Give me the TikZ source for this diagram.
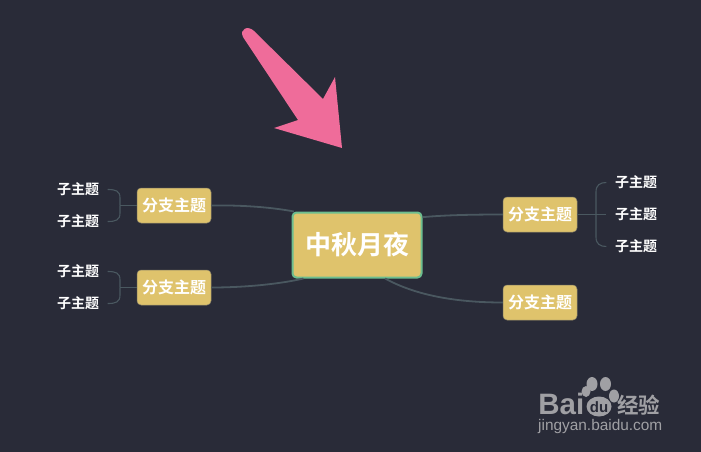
\documentclass[tikz,border=0pt]{standalone}
\usepackage{fontspec}
\setmainfont{Liberation Sans}
\newfontfamily\cjk{Noto Sans CJK SC}[BoldFont={Noto Sans CJK SC Bold}]
\usetikzlibrary{positioning, calc}
\definecolor{mmback}{HTML}{292B38}
\definecolor{mmgold}{HTML}{DFC36C}
\definecolor{mmgreen}{HTML}{6DBE8F}
\definecolor{mmedge}{HTML}{8C8468}
\definecolor{mmlink}{HTML}{4A5860}
\definecolor{mmpink}{HTML}{EF6C9A}
\definecolor{mmmark}{HTML}{A0A0A4}

\begin{document}
\begin{tikzpicture}[x=1pt, y=-1pt,
    rootbox/.style={fill=mmgold, draw=mmgreen, line width=2pt, rounded corners=4pt, text=white,
              font=\cjk\bfseries\fontsize{26}{28}\selectfont, inner sep=0pt,
              minimum width=129pt, minimum height=65pt},
    branch/.style={fill=mmgold, draw=mmedge, line width=0.5pt, rounded corners=4pt, text=white,
              font=\cjk\bfseries\fontsize{16}{18}\selectfont, inner sep=0pt,
              minimum width=74pt, minimum height=35pt},
    leaf/.style={text=white, font=\cjk\bfseries\fontsize{14}{16}\selectfont, inner ysep=0pt, inner xsep=8.5pt},
    link/.style={draw=mmlink, line width=1.8pt},
    twig/.style={draw=mmlink, line width=1.1pt},
    wmark/.style={text=mmmark, inner sep=0pt}]
    \useasboundingbox[fill=mmback] (0,0) rectangle (701,452);
    % arrow
    \fill[mmpink] (342,148) -- (335,77) -- (323,99) -- (254,31)
      .. controls (248,25) and (239,29) .. (243,37) -- (298,120) -- (274,128) -- cycle;
    % root and branches
    \node[rootbox] (root) at (357,245) {\raisebox{-1pt}{中秋月夜}};
    \node[branch] (b1) at (174,205.5) {\raisebox{-0.7pt}{分支主题}};
    \node[branch] (b2) at (174,287.5) {\raisebox{-0.7pt}{分支主题}};
    \node[branch] (b3) at (540,214.5) {\raisebox{-0.7pt}{分支主题}};
    \node[branch] (b4) at (540,302.5) {\raisebox{-0.7pt}{分支主题}};
    % leaves
    \node[leaf] (l1) at (78,189.5) {子主题};
    \node[leaf] (l2) at (78,221.5) {子主题};
    \node[leaf] (l3) at (78,271.5) {子主题};
    \node[leaf] (l4) at (78,303.5) {子主题};
    \node[leaf] (r1) at (636,182.5) {子主题};
    \node[leaf] (r2) at (636,214.5) {子主题};
    \node[leaf] (r3) at (636,246.5) {子主题};
    % root links
    \draw[link] (root.152) .. controls (270,207) and (240,205) .. (b1.east);
    \draw[link] (root.212) .. controls (280,284) and (245,287.5) .. (b2.east);
    \draw[link] (root.23) .. controls (445,215) and (475,214.5) .. (b3.west);
    \draw[link] (root.-50) .. controls (415,295) and (455,302.5) .. (b4.west);
    % left brackets
    \coordinate (j1) at (120,205.5);
    \coordinate (j2) at (120,287.5);
    \draw[twig] (b1.west) -- (j1);
    \draw[twig] (b2.west) -- (j2);
    \draw[twig] (l1.east) .. controls (116,189.5) and (120,191) .. (120,198) -- (j1);
    \draw[twig] (l2.east) .. controls (116,221.5) and (120,220) .. (120,213) -- (j1);
    \draw[twig] (l3.east) .. controls (116,271.5) and (120,273) .. (120,280) -- (j2);
    \draw[twig] (l4.east) .. controls (116,303.5) and (120,302) .. (120,295) -- (j2);
    % right bracket
    \coordinate (j3) at (596,214.5);
    \draw[twig] (b3.east) -- (r2.west);
    \draw[twig] (r1.west) .. controls (600,182.5) and (596,185) .. (596,192) -- (j3);
    \draw[twig] (r3.west) .. controls (600,246.5) and (596,244) .. (596,237) -- (j3);
    % watermark
    \fill[mmmark] (592,384) ellipse (5.5pt and 7pt);
    \fill[mmmark] (605.5,384) ellipse (5.5pt and 7pt);
    \fill[mmmark] (586,391.5) ellipse (4.5pt and 5.5pt);
    \fill[mmmark] (614,396) ellipse (5pt and 6.5pt);
    \fill[mmmark] (599,406.5) ellipse (12.5pt and 10pt);
    \node[wmark, font=\bfseries\fontsize{29.5}{30}\selectfont, anchor=east] (wm1) at (584.5,404) {Bai};
    \node[wmark, text=mmback, font=\bfseries\fontsize{15}{15}\selectfont] (wm2) at (599,407) {du};
    \node[wmark, font=\cjk\bfseries\fontsize{21.5}{22}\selectfont, anchor=west] (wm3) at (617,405) {经验};
    \node[wmark, font=\fontsize{15.4}{16}\selectfont, anchor=west] (wm4) at (538,427) {jingyan.baidu.com};
\end{tikzpicture}
\end{document}
